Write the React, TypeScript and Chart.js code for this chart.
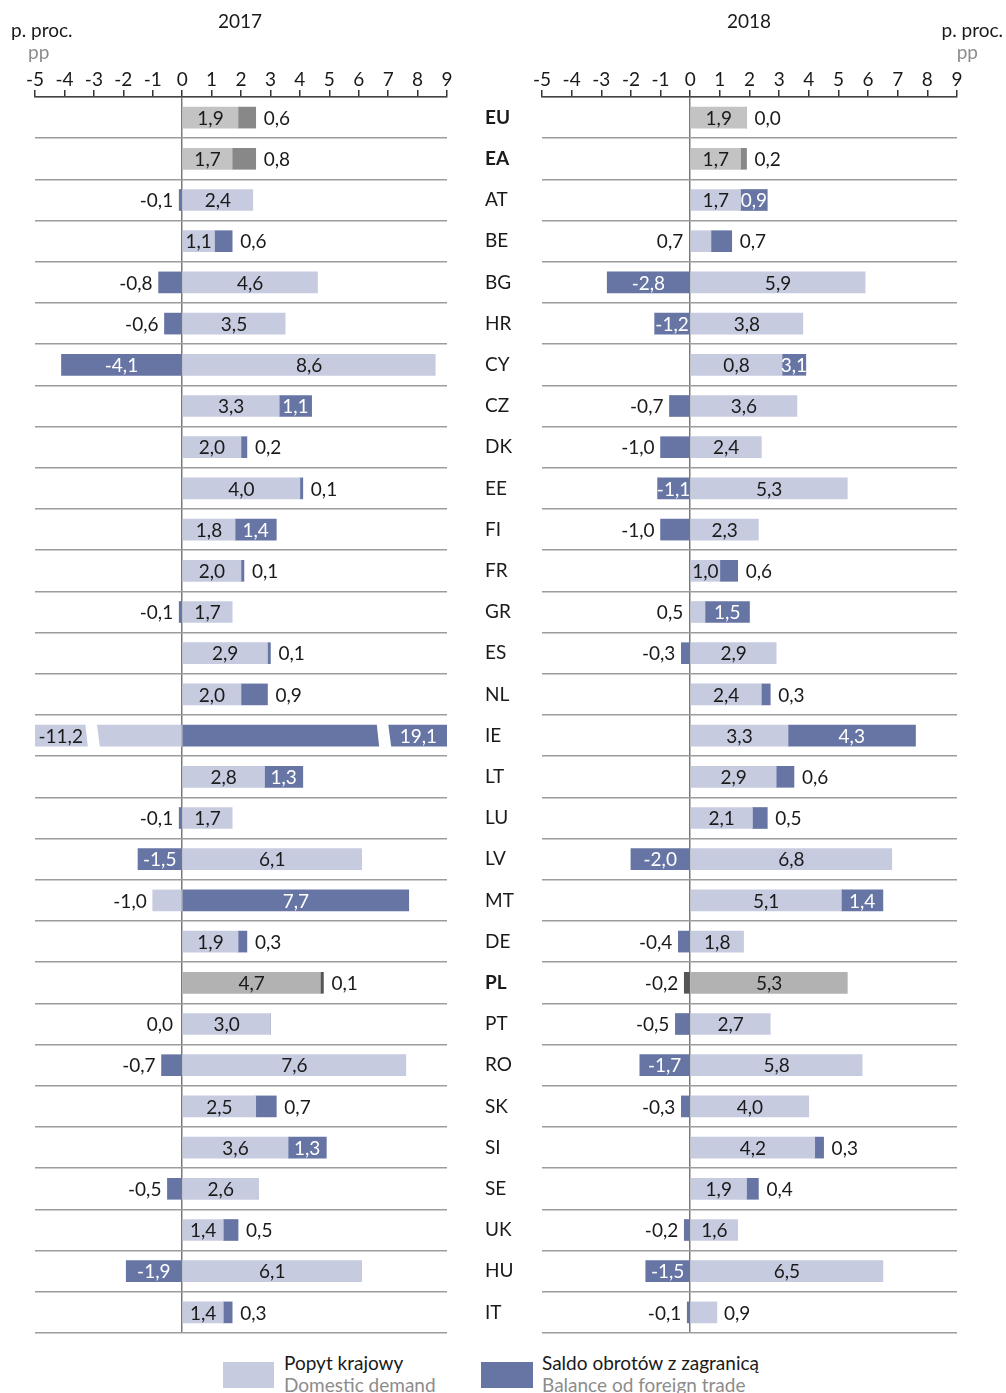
import React, { useEffect, useRef } from "react";
import { Chart, registerables } from "chart.js";

Chart.register(...registerables);

// ---------- data ----------
const countries = ["EU", "EA", "AT", "BE", "BG", "HR", "CY", "CZ", "DK", "EE", "FI", "FR", "GR", "ES", "NL", "IE", "LT", "LU", "LV", "MT", "DE", "PL", "PT", "RO", "SK", "SI", "SE", "UK", "HU", "IT"];
const boldCountries = ["EU", "EA", "PL"];
const aggregateCountries = ["EU", "EA"];
const polandCountries = ["PL"];

const domestic2017 = [1.9, 1.7, 2.4, 1.1, 4.6, 3.5, 8.6, 3.3, 2.0, 4.0, 1.8, 2.0, 1.7, 2.9, 2.0, -11.2, 2.8, 1.7, 6.1, -1.0, 1.9, 4.7, 3.0, 7.6, 2.5, 3.6, 2.6, 1.4, 6.1, 1.4];
const trade2017 = [0.6, 0.8, -0.1, 0.6, -0.8, -0.6, -4.1, 1.1, 0.2, 0.1, 1.4, 0.1, -0.1, 0.1, 0.9, 19.1, 1.3, -0.1, -1.5, 7.7, 0.3, 0.1, 0.0, -0.7, 0.7, 1.3, -0.5, 0.5, -1.9, 0.3];

const domestic2018 = [1.9, 1.7, 1.7, 0.7, 5.9, 3.8, 3.1, 3.6, 2.4, 5.3, 2.3, 1.0, 0.5, 2.9, 2.4, 3.3, 2.9, 2.1, 6.8, 5.1, 1.8, 5.3, 2.7, 5.8, 4.0, 4.2, 1.9, 1.6, 6.5, 0.9];
const trade2018 = [0.0, 0.2, 0.9, 0.7, -2.8, -1.2, 0.8, -0.7, -1.0, -1.1, -1.0, 0.6, 1.5, -0.3, 0.3, 4.3, 0.6, 0.5, -2.0, 1.4, -0.4, -0.2, -0.5, -1.7, -0.3, 0.3, 0.4, -0.2, -1.5, -0.1];

// label quirks as printed in the source
const swappedLabels2018 = ["CY"];
const insideTrade2018 = ["AT", "CY"];
const zeroTradeLeft2017 = ["PT"];

const X_MIN = -5;
const X_MAX = 9;
const BREAK_LOW = -3.05;
const BREAK_HIGH = 6.85;

const seriesNames = ["Popyt krajowy", "Saldo obrotów z zagranicą"];
const seriesNamesEn = ["Domestic demand", "Balance od foreign trade"];

// ---------- style ----------
const FONT = 'Lato, "Open Sans", sans-serif';
const C_DOM = "#c6cbdf";
const C_TRADE = "#6775a5";
const C_AGG_DOM = "#c3c3c3";
const C_AGG_TRADE = "#888888";
const C_PL_DOM = "#b2b2b2";
const C_PL_TRADE = "#555555";
const TEXT = "#1a1a1a";

const fmt = (v: number) => v.toFixed(1).replace(".", ",");

function barColor(idx: number, series: number) {
  const c = countries[idx];
  if (aggregateCountries.includes(c)) return series === 0 ? C_AGG_DOM : C_AGG_TRADE;
  if (polandCountries.includes(c)) return series === 0 ? C_PL_DOM : C_PL_TRADE;
  return series === 0 ? C_DOM : C_TRADE;
}

type PanelCfg = {
  domestic: number[];
  trade: number[];
  swapped: string[];
  forceInside: string[];
  zeroLeft: string[];
  showCountries: boolean;
  left: number;
  width: number;
  padLeft: number;
  padRight: number;
  yAxisWidth: number;
};

function makeLabelPlugin(cfg: PanelCfg) {
  return {
    id: "valueLabels",
    afterDatasetsDraw(chart: any) {
      const ctx = chart.ctx;
      const xs = chart.scales.x;
      const m0 = chart.getDatasetMeta(0);
      const m1 = chart.getDatasetMeta(1);
      ctx.save();
      ctx.fillStyle = "#ffffff";
      for (let i = 0; i < countries.length; i++) {
        const pairs: [any, number][] = [
          [m0.data[i], cfg.domestic[i]],
          [m1.data[i], cfg.trade[i]],
        ];
        for (const [el, v] of pairs) {
          const top = el.y - el.height / 2 - 1;
          const bot = el.y + el.height / 2 + 1;
          let brk: number | null = null;
          if (v < X_MIN) brk = xs.getPixelForValue(BREAK_LOW);
          if (v > X_MAX) brk = xs.getPixelForValue(BREAK_HIGH);
          if (brk !== null) {
            ctx.beginPath();
            ctx.moveTo(brk - 7, top);
            ctx.lineTo(brk + 4.5, top);
            ctx.lineTo(brk + 7.5, bot);
            ctx.lineTo(brk - 4.5, bot);
            ctx.closePath();
            ctx.fill();
          }
        }
      }
      ctx.restore();
    },
    afterDraw(chart: any) {
      const ctx = chart.ctx;
      const xs = chart.scales.x;
      const area = chart.chartArea;
      const m0 = chart.getDatasetMeta(0);
      const m1 = chart.getDatasetMeta(1);
      const zero = xs.getPixelForValue(0);
      ctx.save();
      ctx.font = `19px ${FONT}`;
      ctx.textBaseline = "middle";
      const put = (txt: string, x: number, y: number, align: CanvasTextAlign, color: string) => {
        ctx.textAlign = align;
        ctx.fillStyle = color;
        ctx.fillText(txt, x, y + 1);
      };
      for (let i = 0; i < countries.length; i++) {
        const c = countries[i];
        const d = cfg.domestic[i];
        const t = cfg.trade[i];
        const swap = cfg.swapped.includes(c);
        const dTxt = fmt(swap ? t : d);
        const tTxt = fmt(swap ? d : t);
        const de = m0.data[i];
        const te = m1.data[i];
        const y = de.y;
        // domestic label
        if (d < X_MIN) {
          const p = (area.left + xs.getPixelForValue(BREAK_LOW) - 6) / 2;
          put(dTxt, p, y, "center", TEXT);
        } else if (d >= 1.0) {
          put(dTxt, (de.x + de.base) / 2, y, "center", TEXT);
        } else if (d < 0) {
          put(dTxt, Math.min(de.x, de.base) - 6, y, "right", TEXT);
        } else if (t > 0) {
          put(dTxt, zero - 7, y, "right", TEXT);
        } else {
          put(dTxt, Math.max(de.x, de.base) + 7, y, "left", TEXT);
        }
        // trade label
        if (t > X_MAX) {
          const p = (area.right + xs.getPixelForValue(BREAK_HIGH) + 6) / 2;
          put(tTxt, p, y, "center", "#ffffff");
        } else if (Math.abs(t) > 1.0 || cfg.forceInside.includes(c)) {
          put(tTxt, (te.x + te.base) / 2, y, "center", "#ffffff");
        } else if (t === 0 && cfg.zeroLeft.includes(c)) {
          put(tTxt, zero - 9, y, "right", TEXT);
        } else if (t >= 0) {
          put(tTxt, Math.max(te.x, te.base) + 8, y, "left", TEXT);
        } else {
          put(tTxt, Math.min(te.x, te.base) - 6, y, "right", TEXT);
        }
      }
      ctx.restore();
    },
  };
}

const CANVAS_H = 1345;

function Panel({ cfg }: { cfg: PanelCfg }) {
  const ref = useRef<HTMLCanvasElement>(null);
  useEffect(() => {
    if (!ref.current) return;
    const chart = new Chart(ref.current, {
      type: "bar",
      data: {
        labels: countries,
        datasets: [
          {
            label: seriesNames[0],
            data: cfg.domestic,
            backgroundColor: (c: any) => barColor(c.dataIndex, 0),
            barThickness: 21,
            borderWidth: 0,
            clip: 0,
          } as any,
          {
            label: seriesNames[1],
            data: cfg.trade,
            backgroundColor: (c: any) => barColor(c.dataIndex, 1),
            barThickness: 21,
            borderWidth: 0,
            clip: 0,
          } as any,
        ],
      },
      options: {
        indexAxis: "y",
        responsive: false,
        animation: false,
        devicePixelRatio: 1,
        layout: { padding: { left: cfg.padLeft, right: cfg.padRight, top: 0, bottom: CANVAS_H - 1333 } },
        plugins: { legend: { display: false }, tooltip: { enabled: false } },
        scales: {
          x: {
            type: "linear",
            position: "top",
            min: X_MIN,
            max: X_MAX,
            stacked: true,
            z: 1,
            ticks: {
              stepSize: 1,
              padding: 1,
              color: TEXT,
              font: { family: FONT, size: 19, lineHeight: 1 },
              callback: (v: any) => String(v),
            },
            grid: {
              color: (c: any) => (c.tick && c.tick.value === 0 ? "#7a7a7a" : "rgba(0,0,0,0)"),
              lineWidth: 1.5,
              tickColor: "#333333",
              tickLength: 7,
            },
            border: { display: true, color: "#444444", width: 1.5 },
            afterFit: (s: any) => {
              s.height = 97;
            },
          } as any,
          y: {
            type: "category",
            stacked: true,
            offset: true,
            grid: { offset: true, color: "#9c9c9c", lineWidth: 1.5, drawTicks: false },
            border: { display: false },
            ticks: {
              display: cfg.showCountries,
              crossAlign: "far",
              color: TEXT,
              padding: 0,
              font: (c: any) => ({
                family: FONT,
                size: 19,
                weight: boldCountries.includes(countries[c.index]) ? "bold" : "normal",
              }),
            },
            afterFit: (s: any) => {
              s.width = cfg.yAxisWidth;
            },
          } as any,
        },
      },
      plugins: [makeLabelPlugin(cfg)],
    });
    return () => chart.destroy();
  }, []);
  return (
    <canvas
      ref={ref}
      width={cfg.width}
      height={CANVAS_H}
      style={{ position: "absolute", left: cfg.left, top: 0, width: cfg.width, height: CANVAS_H }}
    />
  );
}

const panel2017: PanelCfg = {
  domestic: domestic2017,
  trade: trade2017,
  swapped: [],
  forceInside: [],
  zeroLeft: zeroTradeLeft2017,
  showCountries: false,
  left: 0,
  width: 480,
  padLeft: 35,
  padRight: 33,
  yAxisWidth: 0,
};

const panel2018: PanelCfg = {
  domestic: domestic2018,
  trade: trade2018,
  swapped: swappedLabels2018,
  forceInside: insideTrade2018,
  zeroLeft: [],
  showCountries: true,
  left: 470,
  width: 536,
  padLeft: 15,
  padRight: 49,
  yAxisWidth: 57,
};

const txt: React.CSSProperties = {
  position: "absolute",
  fontFamily: FONT,
  fontSize: 19,
  lineHeight: "22px",
  color: TEXT,
  whiteSpace: "nowrap",
};

export default function App() {
  return (
    <div style={{ position: "absolute", left: 0, top: 0, width: 1006, height: 1393, background: "#ffffff", overflow: "hidden" }}>
      <Panel cfg={panel2017} />
      <Panel cfg={panel2018} />
      <div style={{ ...txt, left: 190, top: 10, width: 100, textAlign: "center" }}>2017</div>
      <div style={{ ...txt, left: 699, top: 10, width: 100, textAlign: "center" }}>2018</div>
      <div style={{ ...txt, left: 11, top: 19 }}>p. proc.</div>
      <div style={{ ...txt, left: 28, top: 41, color: "#8c8c8c" }}>pp</div>
      <div style={{ ...txt, right: 3, top: 19, textAlign: "right" }}>p. proc.</div>
      <div style={{ ...txt, right: 28, top: 41, color: "#8c8c8c", textAlign: "right" }}>pp</div>
      <div style={{ position: "absolute", left: 223, top: 1362, width: 51, height: 26, background: C_DOM }} />
      <div style={{ ...txt, left: 284, top: 1352 }}>{seriesNames[0]}</div>
      <div style={{ ...txt, left: 284, top: 1374, color: "#8c8c8c" }}>{seriesNamesEn[0]}</div>
      <div style={{ position: "absolute", left: 481, top: 1362, width: 52, height: 26, background: C_TRADE }} />
      <div style={{ ...txt, left: 542, top: 1352 }}>{seriesNames[1]}</div>
      <div style={{ ...txt, left: 542, top: 1374, color: "#8c8c8c" }}>{seriesNamesEn[1]}</div>
    </div>
  );
}
